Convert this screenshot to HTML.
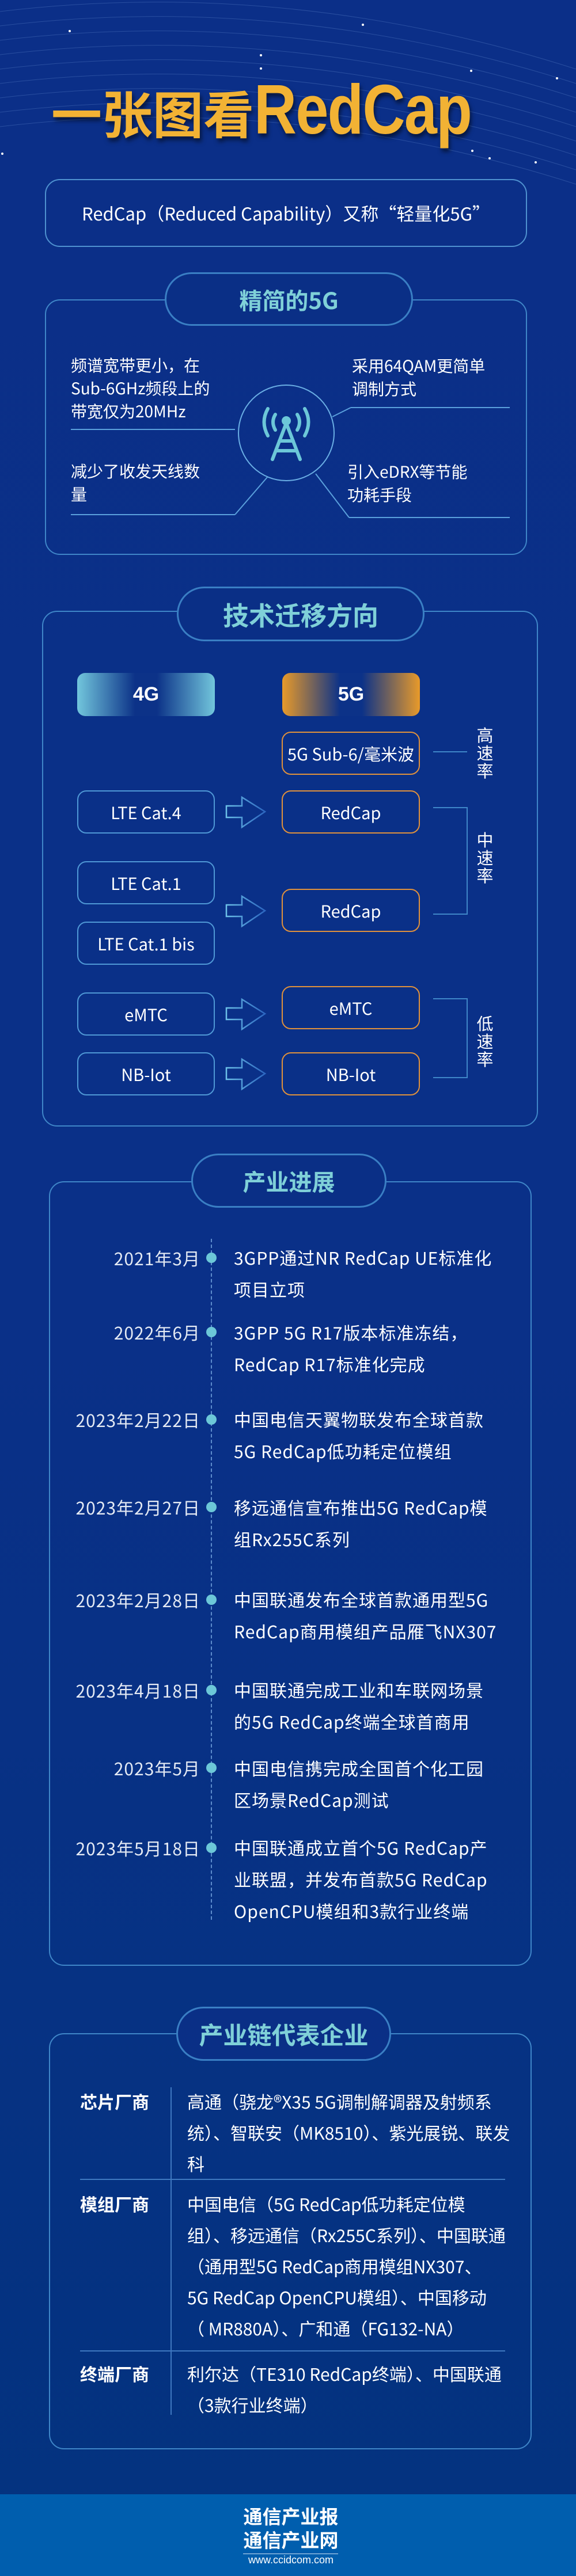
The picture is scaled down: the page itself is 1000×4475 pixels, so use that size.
<!DOCTYPE html>
<html><head><meta charset="utf-8">
<style>
*{margin:0;padding:0;box-sizing:border-box}
body{width:1000px;height:4475px;background:linear-gradient(#0b2f88 0%,#0a3088 50%,#03337f 100%);position:relative;overflow:hidden;font-family:"Liberation Sans","Noto Sans CJK SC",sans-serif;color:#fff}
.a{position:absolute}
.box{position:absolute;border:2px solid #3f86c8;border-radius:26px}
.pill{position:absolute;border:3px solid #3a7fc4;border-radius:60px;background:#0a2f86;display:flex;align-items:center;justify-content:center;color:#7fd0d8;font-weight:bold;font-family:"Noto Sans CJK SC",sans-serif}
.t{position:absolute;font-size:28px;line-height:40px;font-family:"Noto Sans CJK SC",sans-serif}
.b4{position:absolute;left:134px;width:239px;height:75px;border:2px solid #4f98d6;border-radius:16px;display:flex;align-items:center;justify-content:center;font-size:29px;font-family:"Noto Sans CJK SC",sans-serif}
.b5{position:absolute;left:489px;width:240px;height:75px;border:2px solid #e0913c;border-radius:16px;display:flex;align-items:center;justify-content:center;font-size:29px;font-family:"Noto Sans CJK SC",sans-serif}
.vl{position:absolute;font-size:29px;line-height:31px;width:34px;font-family:"Noto Sans CJK SC",sans-serif;text-align:center}
.date{position:absolute;right:652px;font-size:30px;letter-spacing:1px;color:#e4eaf4;font-family:"Noto Sans CJK SC",sans-serif;white-space:nowrap;line-height:40px}
.ev{position:absolute;left:406px;font-size:30px;letter-spacing:1px;line-height:55px;font-family:"Noto Sans CJK SC",sans-serif;white-space:nowrap}
.dot{position:absolute;left:358px;width:18px;height:18px;border-radius:50%;background:#6cc7d8}
.lab{position:absolute;left:139px;font-size:30px;font-weight:bold;font-family:"Noto Sans CJK SC",sans-serif}
.ent{position:absolute;left:325px;font-size:30px;line-height:54px;font-family:"Noto Sans CJK SC",sans-serif;white-space:nowrap}
</style></head><body>

<svg class="a" style="left:0;top:0" width="1000" height="330">
<g fill="none" stroke="#3d63b0" stroke-width="1" opacity="0.6">
<path d="M0 20 Q500 -40 1000 120"/><path d="M0 45 Q500 -15 1000 145"/><path d="M0 70 Q500 10 1000 170"/><path d="M0 95 Q500 35 1000 195"/><path d="M0 120 Q500 60 1000 220"/><path d="M0 145 Q500 85 1000 245"/><path d="M0 170 Q500 110 1000 270"/><path d="M0 195 Q500 135 1000 295"/><path d="M0 220 Q500 160 1000 320"/>
</g>
<g fill="#fff"><circle cx="121" cy="54" r="2"/><circle cx="630" cy="43" r="2"/><circle cx="453" cy="96" r="2"/><circle cx="453" cy="119" r="2"/><circle cx="818" cy="123" r="2"/><circle cx="967" cy="136" r="2"/><circle cx="820" cy="262" r="2"/><circle cx="850" cy="275" r="2"/><circle cx="930" cy="282" r="2"/><circle cx="4" cy="267" r="2"/></g>
</svg>

<div class="a" style="left:89px;top:120px;white-space:nowrap;color:#f2b234;font-weight:bold;text-shadow:3px 6px 8px rgba(0,0,0,.55)">
<span style="font-family:'Noto Sans CJK SC',sans-serif;font-size:88px;vertical-align:baseline">一张图看</span><span style="display:inline-block;font-family:'Liberation Sans',sans-serif;font-size:122px;transform:scaleX(0.84);transform-origin:left;letter-spacing:-2px">RedCap</span>
</div>

<div class="box" style="left:78px;top:311px;width:837px;height:118px;border-color:#4f92d0"></div>
<div class="t" style="left:78px;top:350px;width:837px;text-align:center;font-size:31px">RedCap（Reduced Capability）又称“轻量化5G”</div>

<div class="box" style="left:78px;top:520px;width:837px;height:444px"></div>
<div class="pill" style="left:286px;top:473px;width:431px;height:93px;font-size:40px">精简的5G</div>
<div class="t" style="left:123px;top:614px">频谱宽带更小，在<br>Sub-6GHz频段上的<br>带宽仅为20MHz</div>
<div class="t" style="left:611px;top:615px">采用64QAM更简单<br>调制方式</div>
<div class="t" style="left:123px;top:798px">减少了收发天线数<br>量</div>
<div class="t" style="left:603px;top:799px">引入eDRX等节能<br>功耗手段</div>
<svg class="a" style="left:0;top:600px" width="1000" height="320">
<g stroke="#5aa0dc" stroke-width="2" fill="none">
<line x1="123" y1="146" x2="408" y2="146"/>
<line x1="609" y1="108" x2="885" y2="108"/><line x1="577" y1="124" x2="609" y2="108"/>
<line x1="123" y1="294" x2="408" y2="294"/><line x1="408" y1="294" x2="464" y2="229"/>
<line x1="606" y1="299" x2="885" y2="299"/><line x1="548" y1="223" x2="606" y2="299"/>
<circle cx="497" cy="152" r="83" stroke="#6aaee4"/>
</g>
<g stroke="#6cc7d8" stroke-width="6" fill="none" stroke-linecap="round">
<line x1="497" y1="135" x2="473" y2="198"/><line x1="497" y1="135" x2="521" y2="198"/>
<line x1="485" y1="166" x2="509" y2="166"/><line x1="479" y1="183" x2="515" y2="183"/>
<path d="M478 120 Q470 133 478 147"/><path d="M516 120 Q524 133 516 147"/>
<path d="M465 110 Q452 133 465 157"/><path d="M529 110 Q542 133 529 157"/>
</g>
<circle cx="497" cy="131" r="8" fill="#6cc7d8"/>
</svg>

<div class="box" style="left:73px;top:1061px;width:861px;height:896px"></div>
<div class="pill" style="left:307px;top:1019px;width:430px;height:95px;font-size:45px">技术迁移方向</div>
<div class="a" style="left:134px;top:1169px;width:239px;height:75px;border-radius:14px;background:linear-gradient(90deg,#72c6dc,#0c3288 42%,#0c3288 58%,#72c6dc);display:flex;align-items:center;justify-content:center;font-size:34px;font-weight:bold">4G</div>
<div class="a" style="left:490px;top:1169px;width:239px;height:75px;border-radius:14px;background:linear-gradient(90deg,#e89a2a,#0c3288 42%,#0c3288 58%,#e89a2a);display:flex;align-items:center;justify-content:center;font-size:34px;font-weight:bold">5G</div>
<div class="b5" style="top:1271px">5G Sub-6/毫米波</div>
<div class="b4" style="top:1373px">LTE Cat.4</div>
<div class="b5" style="top:1373px">RedCap</div>
<div class="b4" style="top:1496px">LTE Cat.1</div>
<div class="b4" style="top:1601px">LTE Cat.1 bis</div>
<div class="b5" style="top:1544px">RedCap</div>
<div class="b4" style="top:1724px">eMTC</div>
<div class="b5" style="top:1713px">eMTC</div>
<div class="b4" style="top:1828px">NB-Iot</div>
<div class="b5" style="top:1828px">NB-Iot</div>
<svg class="a" style="left:0;top:0" width="1000" height="2000">
<defs><linearGradient id="ag" x1="0" x2="1"><stop offset="0" stop-color="#6cc1e8"/><stop offset="1" stop-color="#2c66c0"/></linearGradient></defs>
<g fill="none" stroke="url(#ag)" stroke-width="2.5">
<path d="M393 1400 H420 V1385 L460 1410 L420 1437 V1420 H393 Z"/>
<path d="M393 1572 H420 V1557 L460 1582 L420 1609 V1592 H393 Z"/>
<path d="M393 1751 H420 V1736 L460 1761 L420 1788 V1771 H393 Z"/>
<path d="M393 1855 H420 V1840 L460 1865 L420 1892 V1875 H393 Z"/>
</g>
<g fill="none" stroke="#3f86c8" stroke-width="2">
<line x1="752" y1="1306" x2="811" y2="1306"/>
<path d="M752 1403 H811 V1588 H752"/>
<path d="M752 1735 H811 V1872 H752"/>
</g>
</svg>
<div class="vl" style="left:825px;top:1261px">高<br>速<br>率</div>
<div class="vl" style="left:825px;top:1443px">中<br>速<br>率</div>
<div class="vl" style="left:825px;top:1762px">低<br>速<br>率</div>

<div class="box" style="left:85px;top:2052px;width:838px;height:1363px"></div>
<div class="pill" style="left:332px;top:2004px;width:339px;height:94px;font-size:40px">产业进展</div>
<div class="a" style="left:366px;top:2152px;height:1183px;border-left:2px dashed #5d8ccc"></div>
<div class="date" style="top:2165px">2021年3月</div><div class="dot" style="top:2176px"></div>
<div class="ev" style="top:2157px">3GPP通过NR RedCap UE标准化<br>项目立项</div>
<div class="date" style="top:2294px">2022年6月</div><div class="dot" style="top:2305px"></div>
<div class="ev" style="top:2287px">3GPP 5G R17版本标准冻结，<br>RedCap R17标准化完成</div>
<div class="date" style="top:2446px">2023年2月22日</div><div class="dot" style="top:2457px"></div>
<div class="ev" style="top:2438px">中国电信天翼物联发布全球首款<br>5G RedCap低功耗定位模组</div>
<div class="date" style="top:2598px">2023年2月27日</div><div class="dot" style="top:2609px"></div>
<div class="ev" style="top:2591px">移远通信宣布推出5G RedCap模<br>组Rx255C系列</div>
<div class="date" style="top:2759px">2023年2月28日</div><div class="dot" style="top:2770px"></div>
<div class="ev" style="top:2751px">中国联通发布全球首款通用型5G<br>RedCap商用模组产品雁飞NX307</div>
<div class="date" style="top:2916px">2023年4月18日</div><div class="dot" style="top:2927px"></div>
<div class="ev" style="top:2908px">中国联通完成工业和车联网场景<br>的5G RedCap终端全球首商用</div>
<div class="date" style="top:3051px">2023年5月</div><div class="dot" style="top:3062px"></div>
<div class="ev" style="top:3044px">中国电信携完成全国首个化工园<br>区场景RedCap测试</div>
<div class="date" style="top:3190px">2023年5月18日</div><div class="dot" style="top:3201px"></div>
<div class="ev" style="top:3182px">中国联通成立首个5G RedCap产<br>业联盟，并发布首款5G RedCap<br>OpenCPU模组和3款行业终端</div>

<div class="box" style="left:85px;top:3532px;width:838px;height:723px"></div>
<div class="pill" style="left:306px;top:3486px;width:373px;height:94px;font-size:42px">产业链代表企业</div>
<div class="a" style="left:296px;top:3626px;height:569px;border-left:2px solid #3f78c0"></div>
<div class="a" style="left:139px;top:3785px;width:738px;border-top:2px solid #3f78c0"></div>
<div class="a" style="left:139px;top:4083px;width:738px;border-top:2px solid #3f78c0"></div>
<div class="lab" style="top:3628px">芯片厂商</div>
<div class="lab" style="top:3806px">模组厂商</div>
<div class="lab" style="top:4101px">终端厂商</div>
<div class="ent" style="top:3623px">高通（骁龙®X35 5G调制解调器及射频系<br>统）、智联安（MK8510）、紫光展锐、联发<br>科</div>
<div class="ent" style="top:3801px">中国电信（5G RedCap低功耗定位模<br>组）、移远通信（Rx255C系列）、中国联通<br>（通用型5G RedCap商用模组NX307、<br>5G RedCap OpenCPU模组）、中国移动<br>（ MR880A）、广和通（FG132-NA）</div>
<div class="ent" style="top:4096px">利尔达（TE310 RedCap终端）、中国联通<br>（3款行业终端）</div>

<div class="a" style="left:0;top:4333px;width:1000px;height:142px;background:#005eae"></div>
<div class="a" style="left:420px;top:4350px;width:170px;text-align:center;font-family:'Noto Sans CJK SC',sans-serif;font-weight:bold;font-size:33px;line-height:41px">通信产业报<br>通信产业网</div>
<div class="a" style="left:422px;top:4436px;width:165px;border-top:1px solid #cfe0f4"></div>
<div class="a" style="left:420px;top:4437px;width:170px;text-align:center;font-size:18px">www.ccidcom.com</div>
</body></html>
